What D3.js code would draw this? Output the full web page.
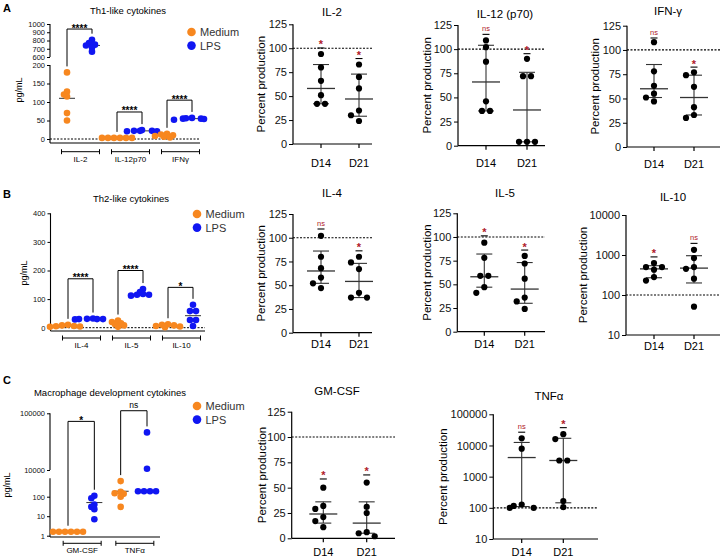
<!DOCTYPE html>
<html>
<head>
<meta charset="utf-8">
<script src="https://cdn.jsdelivr.net/npm/d3@7"></script>
<style>
body { margin: 0; background: #fff; }
text { font-family: "Liberation Sans", Arial, sans-serif; }
</style>
</head>
<body>
<svg id="fig" width="722" height="557"></svg>
<script>
var ORANGE = "#F7871F", BLUE = "#1016F2", RED = "#B0202A";

// ---------- A: Th1-like cytokines (pg/mL) ----------
var th1Cats = ["IL-2", "IL-12p70", "IFNγ"];
var th1Medium = [[180, 128, 120, 115, 70, 50], [3, 3, 3, 3, 3, 3], [14, 12, 10, 8, 6, 4]];
var th1Lps = [[810, 770, 750, 740, 715, 665], [24, 22, 22, 21, 21, 22], [57, 56, 55, 55, 54, 52]];
var th1MedianMedium = [110, 3, 8];
var th1MedianLps = [740, 22, 55];
var th1Sig = ["****", "****", "****"];
var th1SigTop = [939, 73, 105];
var th1TicksLow = [0, 50, 100, 150, 200];
var th1TicksHigh = [600, 700, 800, 900, 1000];

// ---------- B: Th2-like cytokines (pg/mL) ----------
var th2Cats = ["IL-4", "IL-5", "IL-10"];
var th2Medium = [[10, 8, 6, 5, 4, 3], [25, 20, 15, 12, 8, 3], [12, 10, 8, 6, 4, 2]];
var th2Lps = [[32, 31, 30, 30, 30, 29], [135, 125, 118, 115, 112, 115], [80, 58, 58, 27, 27, 6]];
var th2MedianMedium = [6, 14, 7];
var th2MedianLps = [30, 117, 42];
var th2Sig = ["****", "****", "*"];
var th2SigTop = [171, 200, 141];
var th2Ticks = [0, 100, 200, 300, 400];

// ---------- C: Macrophage development cytokines (pg/mL) ----------
var macCats = ["GM-CSF", "TNFα"];
var macMedium = [[1.6, 1.6, 1.6, 1.6, 1.6, 1.6], [630, 180, 150, 140, 100, 30]];
var macLps = [[112, 83, 40, 30, 23, 7], [46000, 10500, 190, 190, 190, 190]];
var macMedianMedium = [1.6, 190];
var macMedianLps = [50, 190];
var macSig = ["*", "ns"];
var macSigTop = [72000, 111000];
var macTicksLow = [1, 10, 100];
var macTicksHigh = [10000, 100000];

// ---------- percent production panels ----------
var days = ["D14", "D21"];
var pctTicks = [0, 25, 50, 75, 100, 125];
var logTicksIL10 = [10, 100, 1000, 10000];
var logTicksTNF = [10, 100, 1000, 10000, 100000];

var il2Vals = [[94, 80, 66, 51, 42, 42], [83, 70, 58, 35, 30, 24]];
var il2Median = [58, 47], il2Low = [42, 29], il2High = [83, 73];
var il2Sig = ["*", "*"], il2SigAt = [106, 95];

var il12Vals = [[109, 102, 87, 46, 36, 36], [90, 72, 72, 4, 4, 4]];
var il12Median = [66, 37], il12Low = [36, 4], il12High = [104, 76];
var il12Sig = ["ns", "*"], il12SigAt = [121, 101];

var ifnVals = [[108, 78, 63, 55, 51, 47], [77, 74, 62, 41, 33, 30]];
var ifnMedian = [60, 51], ifnLow = [51, 33], ifnHigh = [85, 74];
var ifnSig = ["ns", "*"], ifnSigAt = [118, 88];

var il4Vals = [[102, 80, 68, 58, 52, 47], [80, 74, 67, 42, 37, 37]];
var il4Median = [65, 54], il4Low = [52, 37], il4High = [86, 73];
var il4Sig = ["ns", "*"], il4SigAt = [115, 92];

var il5Vals = [[94, 78, 59, 59, 47, 41], [80, 72, 56, 36, 32, 24]];
var il5Median = [58, 45], il5Low = [47, 30], il5High = [82, 73];
var il5Sig = ["*", "*"], il5SigAt = [107, 92];

var il10Vals = [[630, 500, 500, 430, 280, 230], [1350, 840, 500, 450, 256, 51]];
var il10Median = [450, 470], il10Low = [270, 200], il10High = [540, 960];
var il10Sig = ["*", "ns"], il10SigAt = [1230, 2680];

var gmVals = [[50, 32, 29, 21, 17, 11], [55, 31, 25, 6, 5, 2]];
var gmMedian = [24, 15], gmLow = [15, 5], gmHigh = [36, 36];
var gmSig = ["*", "*"], gmSigAt = [64, 68];

var tnfVals = [[17000, 7900, 128, 115, 100, 100], [23000, 16000, 3300, 3300, 165, 105]];
var tnfMedian = [4100, 3300], tnfLow = [110, 145], tnfHigh = [12500, 17000];
var tnfSig = ["ns", "*"], tnfSigAt = [40000, 56000];

var svg = d3.select("#fig");

// spread overlapping points sideways, like a scatter dot plot
function swarm(vals, yf, cx, gap, minDist) {
    var pts = vals.map(function (v) { return { v: v, y: yf(v), x: cx }; });
    var order = pts.slice().sort(function (a, b) { return a.y - b.y; });
    var placed = [];
    order.forEach(function (p) {
        for (var k = 0; k < 15; k++) {
            var px = cx + (k % 2 ? -1 : 1) * Math.ceil(k / 2) * gap;
            var ok = placed.every(function (q) { return Math.hypot(q.x - px, q.y - p.y) >= minDist; });
            if (ok) { p.x = px; break; }
        }
        placed.push(p);
    });
    d3.group(pts, function (d) { return d.v; }).forEach(function (row) {
        if (row.length > 1) {
            var m = d3.mean(row, function (d) { return d.x; }) - cx;
            row.forEach(function (d) { d.x -= m; });
        }
    });
    return pts;
}

function line(g, x1, y1, x2, y2, w, dash) {
    return g.append("line")
        .attr("x1", x1).attr("y1", y1).attr("x2", x2).attr("y2", y2)
        .attr("stroke", "#000").attr("stroke-width", w || 1)
        .attr("stroke-dasharray", dash || null);
}

/////////////////////////////////////////////////////
////////////  left-hand pg/mL dot plots  ////////////
/////////////////////////////////////////////////////

function cytoPanel(o) {
    var g = svg.append("g");
    var groups = [];
    o.cats.forEach(function (c) { groups.push(c + "|M"); groups.push(c + "|L"); });
    var x = d3.scalePoint().domain(groups).range(o.xRange);

    // y axis segments (broken axes)
    o.segments.forEach(function (s) {
        var ax = g.append("g")
            .attr("transform", "translate(" + o.ax + ",0)")
            .call(d3.axisLeft(s.scale).tickValues(s.ticks).tickSize(3).tickPadding(2).tickFormat(d3.format("d")));
        ax.select(".domain").remove();
        ax.selectAll("text").attr("font-size", 7.5).attr("fill", "#111");
        ax.selectAll("line").attr("stroke-width", 1);
        line(g, o.ax, s.from, o.ax, s.to, 1.1);
    });

    // x axis + zero line
    line(g, o.ax, o.axisY, o.xEnd, o.axisY, 1.1);
    if (o.zero !== undefined) line(g, o.ax, o.y(o.zero), o.xEnd, o.y(o.zero), 1, "2,1.5");

    // category brackets under the axis
    o.cats.forEach(function (c) {
        var cx = (x(c + "|M") + x(c + "|L")) / 2 + 1;
        line(g, cx - 19, o.catY, cx + 19, o.catY, 1);
        line(g, cx - 19, o.catY - 2.5, cx - 19, o.catY + 2.5, 1);
        line(g, cx + 19, o.catY - 2.5, cx + 19, o.catY + 2.5, 1);
        g.append("text").attr("x", cx).attr("y", o.catY + 10)
            .attr("text-anchor", "middle").attr("font-size", 8).text(c);
    });

    // points + median lines
    o.cats.forEach(function (c, i) {
        [["M", o.medium[i], o.medMedium[i], ORANGE], ["L", o.lps[i], o.medLps[i], BLUE]].forEach(function (s) {
            var cx = x(c + "|" + s[0]);
            line(g, cx - 8, o.y(s[2]), cx + 8, o.y(s[2]), 1).attr("stroke", "#333");
            g.append("g").selectAll("circle")
                .data(swarm(s[1], o.y, cx, 3, 3.5))
                .join("circle")
                .attr("cx", function (d) { return d.x; })
                .attr("cy", function (d) { return d.y; })
                .attr("r", 3.3)
                .attr("fill", s[3]);
        });

        // significance bracket
        var xm = x(c + "|M"), xl = x(c + "|L");
        var top = o.y(o.sigTop[i]);
        var leftEnd = o.y(d3.max(o.medium[i])) - 6;
        var rightEnd = o.y(d3.max(o.lps[i])) - 6;
        g.append("path")
            .attr("d", "M" + xm + "," + leftEnd + "V" + top + "H" + xl + "V" + rightEnd)
            .attr("fill", "none").attr("stroke", "#000").attr("stroke-width", 1);
        var lab = o.sig[i];
        g.append("text").attr("x", (xm + xl) / 2)
            .attr("y", lab === "ns" ? top - 3 : top + 2.5)
            .attr("text-anchor", "middle")
            .attr("font-size", lab === "ns" ? 8.5 : 10)
            .attr("font-weight", lab === "ns" ? "normal" : "bold")
            .text(lab);
    });

    // title, y label
    g.append("text").attr("x", o.titleX).attr("y", o.titleY + 3.5)
        .attr("text-anchor", "middle").attr("font-size", 9.5).text(o.title);
    g.append("text")
        .attr("transform", "translate(" + o.ylabX + "," + o.ylabY + ") rotate(-90)")
        .attr("text-anchor", "middle").attr("font-size", 9).text("pg/mL");

    // legend
    [["Medium", ORANGE], ["LPS", BLUE]].forEach(function (d, k) {
        var ly = o.legY + k * 13.6;
        g.append("circle").attr("cx", o.legX).attr("cy", ly).attr("r", 4.3).attr("fill", d[1]);
        g.append("text").attr("x", o.legX + 8.5).attr("y", ly + 4)
            .attr("font-family", "Lato, 'Open Sans', sans-serif")
            .attr("font-size", 11).attr("fill", "#333").text(d[0]);
    });

    // panel letter
    g.append("text").attr("x", 3).attr("y", o.letterY)
        .attr("font-size", 11).attr("font-weight", "bold").text(o.letter);
}

/////////////////////////////////////////////////////
///////////  percent production panels  /////////////
/////////////////////////////////////////////////////

function pctPanel(o) {
    var g = svg.append("g");
    var y = o.log
        ? d3.scaleLog().domain(o.domain).range([o.bot, o.top])
        : d3.scaleLinear().domain([0, 125]).range([o.bot, o.top]);
    var x = d3.scalePoint().domain(days).range(o.xs);

    var ax = g.append("g")
        .attr("transform", "translate(" + o.ax + ",0)")
        .call(d3.axisLeft(y).tickValues(o.ticks).tickSize(4).tickPadding(2).tickFormat(d3.format("d")));
    ax.select(".domain").remove();
    ax.selectAll("text").attr("font-size", 11).attr("fill", "#111");
    line(g, o.ax, o.bot, o.ax, o.top, 1.2);

    // x axis
    line(g, o.ax, o.bot, o.right, o.bot, 1.2);
    days.forEach(function (d) {
        line(g, x(d), o.bot, x(d), o.bot + 4, 1.2);
        g.append("text").attr("x", x(d)).attr("y", o.ly + 4)
            .attr("text-anchor", "middle").attr("font-size", 11).text(d);
    });

    // reference line at 100 %
    line(g, o.ax, y(100), o.right, y(100), 1.2, "2,1.5");

    days.forEach(function (d, i) {
        var cx = x(d);
        // median with interquartile range
        line(g, cx, y(o.lo[i]), cx, y(o.hi[i]), 1.1).attr("stroke", "#333");
        line(g, cx - 8, y(o.hi[i]), cx + 8, y(o.hi[i]), 1.1).attr("stroke", "#333");
        line(g, cx - 8, y(o.lo[i]), cx + 8, y(o.lo[i]), 1.1).attr("stroke", "#333");
        line(g, cx - 14, y(o.med[i]), cx + 14, y(o.med[i]), 1.3).attr("stroke", "#333");

        g.append("g").selectAll("circle")
            .data(swarm(o.vals[i], y, cx, 8, 6))
            .join("circle")
            .attr("cx", function (p) { return p.x; })
            .attr("cy", function (p) { return p.y; })
            .attr("r", 3.1)
            .attr("fill", "#000");

        // significance vs. day 0
        var sy = y(o.sigAt[i]);
        if (o.sig[i] === "ns") {
            g.append("text").attr("x", cx).attr("y", sy + 2.5)
                .attr("text-anchor", "middle").attr("font-size", 7.5).attr("fill", RED).text("ns");
        } else {
            g.append("text").attr("x", cx).attr("y", sy + 6)
                .attr("text-anchor", "middle").attr("font-size", 11).attr("font-weight", "bold")
                .attr("fill", RED).text("*");
        }
        line(g, cx - 3.5, sy + 5.5, cx + 3.5, sy + 5.5, 1.1);
    });

    g.append("text").attr("x", o.tx).attr("y", o.ty + 4)
        .attr("text-anchor", "middle").attr("font-size", 11.5).text(o.title);
    g.append("text")
        .attr("transform", "translate(" + o.lx + "," + ((o.top + o.bot) / 2) + ") rotate(-90)")
        .attr("text-anchor", "middle").attr("dy", "0.35em")
        .attr("font-size", 11.5).text("Percent production");
}

// ---------------- A ----------------
var aLow = d3.scaleLinear().domain([0, 200]).range([139, 65]);
var aHigh = d3.scaleLinear().domain([600, 1000]).range([57, 24]);
cytoPanel({
    letter: "A", letterY: 12,
    title: "Th1-like cytokines", titleX: 128, titleY: 10,
    cats: th1Cats, medium: th1Medium, lps: th1Lps,
    medMedium: th1MedianMedium, medLps: th1MedianLps,
    sig: th1Sig, sigTop: th1SigTop,
    y: function (v) { return v > 400 ? aHigh(v) : aLow(v); },
    segments: [
        { scale: aLow, ticks: th1TicksLow, from: 143, to: 65 },
        { scale: aHigh, ticks: th1TicksHigh, from: 57, to: 24 }
    ],
    ax: 50, axisY: 143, xEnd: 200, zero: 0, xRange: [67, 192], catY: 151.7,
    ylabX: 22, ylabY: 90, legX: 191.5, legY: 32
});

// ---------------- B ----------------
var bY = d3.scaleLinear().domain([0, 400]).range([327.7, 213.3]);
cytoPanel({
    letter: "B", letterY: 198,
    title: "Th2-like cytokines", titleX: 131, titleY: 198,
    cats: th2Cats, medium: th2Medium, lps: th2Lps,
    medMedium: th2MedianMedium, medLps: th2MedianLps,
    sig: th2Sig, sigTop: th2SigTop,
    y: bY,
    segments: [{ scale: bY, ticks: th2Ticks, from: 331, to: 213.3 }],
    ax: 50.5, axisY: 331, xEnd: 205, zero: 0, xRange: [68, 193], catY: 338,
    ylabX: 27, ylabY: 273, legX: 197, legY: 214
});

// ---------------- C ----------------
var cLow = d3.scaleLog().domain([1, 1000]).range([535.7, 477.2]);
var cHigh = d3.scaleLog().domain([10000, 100000]).range([470, 413.3]);
cytoPanel({
    letter: "C", letterY: 384,
    title: "Macrophage development cytokines", titleX: 110, titleY: 392.5,
    cats: macCats, medium: macMedium, lps: macLps,
    medMedium: macMedianMedium, medLps: macMedianLps,
    sig: macSig, sigTop: macSigTop,
    y: function (v) { return v >= 5000 ? cHigh(v) : cLow(v); },
    segments: [
        { scale: cLow, ticks: macTicksLow, from: 537, to: 478.3 },
        { scale: cHigh, ticks: macTicksHigh, from: 470, to: 413.3 }
    ],
    ax: 50, axisY: 537, xEnd: 160, xRange: [68, 147], catY: 543.3,
    ylabX: 10, ylabY: 485, legX: 197, legY: 406
});

// ---------------- percent panels ----------------
pctPanel({ title: "IL-2", vals: il2Vals, med: il2Median, lo: il2Low, hi: il2High, sig: il2Sig, sigAt: il2SigAt,
    ticks: pctTicks, ax: 293, top: 24.3, bot: 144, right: 372, xs: [321, 359], tx: 332, ty: 12, lx: 261, ly: 163.3 });
pctPanel({ title: "IL-12 (p70)", vals: il12Vals, med: il12Median, lo: il12Low, hi: il12High, sig: il12Sig, sigAt: il12SigAt,
    ticks: pctTicks, ax: 458, top: 25, bot: 145.7, right: 545, xs: [486, 527], tx: 505, ty: 14, lx: 427, ly: 163.3 });
pctPanel({ title: "IFN-γ", vals: ifnVals, med: ifnMedian, lo: ifnLow, hi: ifnHigh, sig: ifnSig, sigAt: ifnSigAt,
    ticks: pctTicks, ax: 627, top: 25.7, bot: 147, right: 720, xs: [654, 694], tx: 668, ty: 10.5, lx: 595, ly: 163.5 });

pctPanel({ title: "IL-4", vals: il4Vals, med: il4Median, lo: il4Low, hi: il4High, sig: il4Sig, sigAt: il4SigAt,
    ticks: pctTicks, ax: 293, top: 214, bot: 332.7, right: 372, xs: [321, 359], tx: 332, ty: 193, lx: 261, ly: 344 });
pctPanel({ title: "IL-5", vals: il5Vals, med: il5Median, lo: il5Low, hi: il5High, sig: il5Sig, sigAt: il5SigAt,
    ticks: pctTicks, ax: 457.3, top: 213.3, bot: 331.7, right: 545, xs: [484.3, 524.7], tx: 505, ty: 193, lx: 427, ly: 343.5 });
pctPanel({ title: "IL-10", log: true, domain: [10, 10000], vals: il10Vals, med: il10Median, lo: il10Low, hi: il10High,
    sig: il10Sig, sigAt: il10SigAt,
    ticks: logTicksIL10, ax: 626, top: 215, bot: 335, right: 720, xs: [654, 694], tx: 673, ty: 197, lx: 583, ly: 346 });

pctPanel({ title: "GM-CSF", vals: gmVals, med: gmMedian, lo: gmLow, hi: gmHigh, sig: gmSig, sigAt: gmSigAt,
    ticks: pctTicks, ax: 291.7, top: 411.7, bot: 538.3, right: 395, xs: [323.3, 366.7], tx: 337, ty: 391, lx: 262, ly: 551.7 });
pctPanel({ title: "TNFα", log: true, domain: [10, 100000], vals: tnfVals, med: tnfMedian, lo: tnfLow, hi: tnfHigh,
    sig: tnfSig, sigAt: tnfSigAt,
    ticks: logTicksTNF, ax: 493.3, top: 414.3, bot: 539, right: 598, xs: [521.7, 563.3], tx: 549, ty: 396, lx: 443, ly: 551.7 });
</script>
</body>
</html>
